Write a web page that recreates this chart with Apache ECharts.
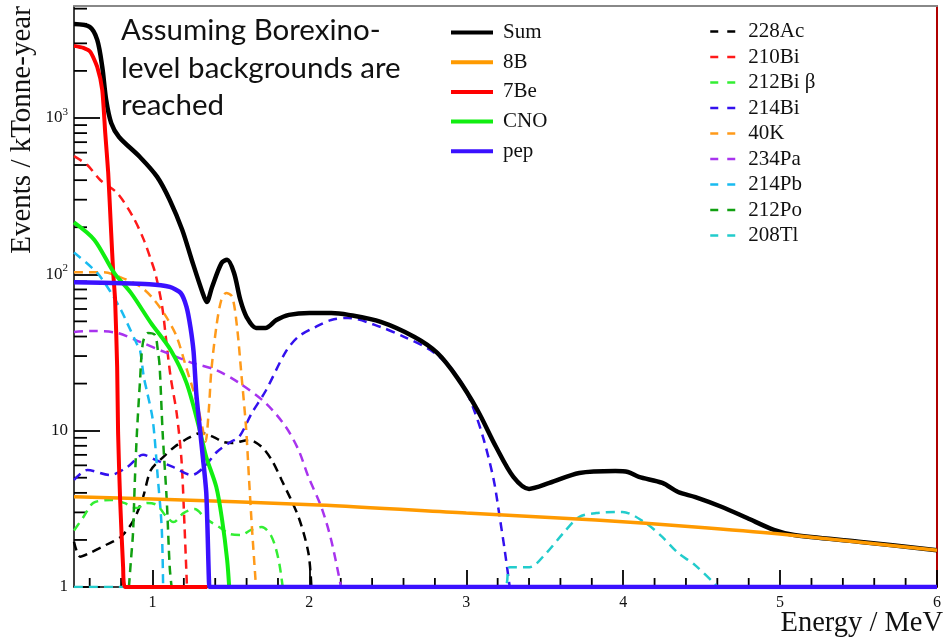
<!DOCTYPE html>
<html><head><meta charset="utf-8">
<script src="https://cdn.jsdelivr.net/npm/echarts@6/dist/echarts.min.js"></script>
<style>html,body{margin:0;padding:0;background:#fff}#c{width:944px;height:641px}</style>
</head><body><div id="c"></div>
<script>
// ---- tick values / labels ----
const xMajorTicks = [1, 2, 3, 4, 5, 6];
const xMinorTicks = [0.6, 0.8, 1.2, 1.4, 1.6, 1.8, 2.2, 2.4, 2.6, 2.8, 3.2, 3.4, 3.6, 3.8, 4.2, 4.4, 4.6, 4.8, 5.2, 5.4, 5.6, 5.8];
const yMajorTicks = [1, 10, 100, 1000];
const yMinorTicks = [2, 3, 4, 5, 6, 7, 8, 9, 20, 30, 40, 50, 60, 70, 80, 90, 200, 300, 400, 500, 600, 700, 800, 900, 2000, 3000, 4000, 5000];
const yTickLabels = ['1', '10', '10{s|2}', '10{s|3}'];

// ---- series values: [Energy (MeV), Events / kTonne-year] ----
const sumData = [[0.5,3990],[0.6,3820],[0.648,3155],[0.68,2120],[0.705,1304],[0.737,929],[0.787,756],[0.92,563],[1.03,420],[1.11,299],[1.19,192],[1.25,124],[1.32,76],[1.346,66.5],[1.38,83],[1.44,118],[1.476,124],[1.52,102],[1.56,68.5],[1.6,53.3],[1.66,45.4],[1.72,45.4],[1.79,51],[1.87,55],[2.0,56.6],[2.14,56.6],[2.25,55],[2.455,49.6],[2.67,39.7],[2.815,31.4],[2.94,22],[3.07,13.6],[3.19,7.86],[3.3,5.06],[3.4,4.24],[3.53,4.63],[3.72,5.36],[3.95,5.52],[4.03,5.44],[4.1,5.06],[4.25,4.63],[4.35,4.05],[4.46,3.76],[4.63,3.25],[4.79,2.76],[4.96,2.32],[5.09,2.15],[5.5,1.95],[6.0,1.72]];
const b8Data = [[0.5,3.78],[1,3.65],[2.057,3.35],[3,2.97],[3.826,2.68],[4.458,2.42],[5,2.18],[6,1.72]];
const be7Data = [[0.5,2890],[0.56,2805],[0.604,2645],[0.648,2120],[0.68,1511],[0.699,802],[0.718,445],[0.737,184],[0.75,102],[0.762,68.5],[0.775,25.5],[0.781,9.67],[0.794,3.6],[0.813,1.34],[0.825,1],[1.35,1]];
const cnoData = [[0.5,215],[0.63,166],[0.756,102],[0.863,76],[0.99,48.9],[1.116,32.8],[1.217,20.2],[1.299,10.3],[1.343,6.79],[1.407,4.36],[1.444,2.68],[1.476,1.49],[1.489,1]];
const pepData = [[0.5,89],[0.98,86.5],[1.11,83],[1.18,76],[1.217,62],[1.242,46],[1.262,32],[1.28,17],[1.312,8.3],[1.343,4],[1.36,1.1],[1.365,1],[6,1]];
const ac228Data = [[0.5,1.95],[0.54,1.56],[0.6,1.65],[0.7,1.85],[0.8,2.1],[0.88,2.68],[0.94,3.76],[0.99,5.6],[1.07,6.8],[1.14,7.86],[1.23,8.98],[1.31,9.67],[1.39,9.1],[1.45,8.47],[1.508,8.34],[1.615,8.72],[1.697,7.86],[1.76,6.49],[1.823,4.84],[1.931,2.8],[1.994,1.65],[2.013,1]];
const bi210Data = [[0.5,570],[0.585,500],[0.667,401],[0.775,331],[0.876,233],[0.945,166],[0.99,124],[1.02,100],[1.062,62],[1.09,36],[1.116,22],[1.154,13],[1.185,6.5],[1.204,2.5],[1.22,1]];
const bi212Data = [[0.5,2.3],[0.56,2.8],[0.623,3.45],[0.737,3.6],[0.819,3.45],[0.901,3.2],[0.964,3.45],[1.027,3.35],[1.091,2.8],[1.135,2.6],[1.198,2.97],[1.268,3.15],[1.343,2.72],[1.425,2.42],[1.495,2.18],[1.564,2.15],[1.628,2.32],[1.697,2.42],[1.76,2.09],[1.804,1.49],[1.83,1]];
const bi214Data = [[0.5,4.84],[0.585,5.6],[0.73,5.2],[0.84,5.86],[0.94,7],[1.02,6.5],[1.13,5.86],[1.25,5.2],[1.33,5.86],[1.41,7.3],[1.5,8.5],[1.552,9.1],[1.634,13],[1.722,18],[1.85,32],[1.931,40],[2.038,46],[2.139,51],[2.247,52.6],[2.455,46],[2.607,39.7],[2.771,32.8],[2.897,25.5],[2.986,19],[3.049,13.6],[3.112,8.72],[3.175,4.84],[3.213,2.8],[3.245,1.72],[3.277,1]];
const k40Data = [[0.5,103],[0.69,103],[0.794,96],[0.926,83],[1.009,69],[1.09,53],[1.154,40],[1.217,25],[1.28,15.5],[1.318,10.5],[1.338,8.5],[1.36,14],[1.375,24],[1.407,46],[1.438,68],[1.47,76],[1.508,72],[1.539,46],[1.565,24],[1.596,10.6],[1.615,5],[1.634,2.4],[1.66,1]];
const pa234Data = [[0.5,42.8],[0.604,43.4],[0.775,42.2],[0.92,37],[1.091,31.4],[1.255,27.1],[1.407,24.4],[1.552,20.2],[1.722,15],[1.849,10.6],[1.931,7.52],[1.994,5.06],[2.076,3.25],[2.139,2],[2.202,1]];
const pb214Data = [[0.5,138],[0.648,102],[0.737,76],[0.8,59],[0.838,49],[0.9,36],[0.92,33],[0.945,22],[0.964,18],[1.002,11.7],[1.034,5],[1.059,2.4],[1.068,1]];
const po212Data = [[0.85,1],[0.863,1.49],[0.876,2.21],[0.888,4.84],[0.901,9.67],[0.92,20.2],[0.939,36.4],[0.971,42.2],[1.015,41],[1.034,32.8],[1.046,25.5],[1.065,9.67],[1.091,3.6],[1.11,1.34],[1.122,1]];
const tl208Data = [[0.5,1],[3.239,1],[3.277,1.34],[3.403,1.34],[3.51,1.65],[3.618,2.21],[3.719,2.8],[3.826,2.97],[3.996,3.02],[4.142,2.57],[4.249,2.09],[4.35,1.65],[4.458,1.38],[4.603,1]];

const serif = 'Liberation Serif';
const chart = echarts.init(document.getElementById('c'), null, {renderer: 'canvas'});

function dashed(name, data, color) {
  return {name, type: 'line', data, symbol: 'none', smooth: 0.3,
    xAxisIndex: 0, yAxisIndex: 0,
    lineStyle: {color, width: 2.5, type: [9, 6]}, itemStyle: {color}, z: 2};
}
function solid(name, data, color, width, smooth) {
  return {name, type: 'line', data, symbol: 'none', smooth: smooth,
    xAxisIndex: 0, yAxisIndex: 0,
    lineStyle: {color, width}, itemStyle: {color}, z: 3};
}
// minor tick marks: thin rect symbols placed through the axes' own scales
function tickSeries(name, data, size, offset) {
  return {name, type: 'scatter', xAxisIndex: 0, yAxisIndex: 0, data, clip: false, silent: true, z: 1,
    symbol: 'rect', symbolSize: size, symbolOffset: offset,
    itemStyle: {color: '#000', opacity: 1, borderWidth: 0}, emphasis: {disabled: true}};
}

const xBase = {type: 'value', min: 0.5, max: 6, splitLine: {show: false}, gridIndex: 0};
const yBase = {type: 'log', logBase: 10, min: 1, max: 5200, splitLine: {show: false}, gridIndex: 0};

const option = {
  animation: false,
  backgroundColor: '#ffffff',
  grid: {show: false, left: 74, right: 2, top: 6, bottom: 54, containLabel: false},
  xAxis: [
    Object.assign({}, xBase, {position: 'bottom',
      axisLine: {show: true, lineStyle: {color: '#000', width: 1.5}},
      axisTick: {show: true, inside: true, length: 17, customValues: xMajorTicks, lineStyle: {color: '#000', width: 1.8}},
      axisLabel: {show: true, customValues: xMajorTicks, margin: 8, fontFamily: serif, fontSize: 16, color: '#111', formatter: v => String(Math.round(v))}}),
    Object.assign({}, xBase, {position: 'top',
      axisLine: {show: true, lineStyle: {color: '#888', width: 2}},
      axisTick: {show: false}, axisLabel: {show: false}})
  ],
  yAxis: [
    Object.assign({}, yBase, {position: 'left',
      axisLine: {show: true, lineStyle: {color: '#000', width: 1.5}},
      axisTick: {show: true, inside: true, length: 26, customValues: yMajorTicks, lineStyle: {color: '#000', width: 1.8}},
      axisLabel: {show: true, customValues: yMajorTicks, margin: 6, fontFamily: serif, fontSize: 17, color: '#111',
        formatter: function (v) { const i = yMajorTicks.indexOf(Math.round(v)); return i >= 0 ? yTickLabels[i] : ''; },
        rich: {s: {fontFamily: serif, fontSize: 11, padding: [0, 0, 12, 0], color: '#111'}}}}),
    Object.assign({}, yBase, {position: 'right',
      axisLine: {show: true, lineStyle: {color: '#b00000', width: 2}},
      axisTick: {show: false}, axisLabel: {show: false}})
  ],
  legend: [
    {orient: 'vertical', left: 449, top: 22, padding: 0, itemWidth: 42, itemHeight: 14, itemGap: 8.7,
      selectedMode: false, data: ['Sum', '8B', '7Be', 'CNO', 'pep'],
      textStyle: {fontFamily: serif, fontSize: 21, color: '#111', padding: [0, 0, 0, 5]},
      itemStyle: {opacity: 0, borderWidth: 0}, lineStyle: {width: 4}},
    {orient: 'vertical', left: 709, top: 21, padding: 0, itemWidth: 25, itemHeight: 14, itemGap: 4.5,
      selectedMode: false, data: ['228Ac', '210Bi', '212Bi β', '214Bi', '40K', '234Pa', '214Pb', '212Po', '208Tl'],
      textStyle: {fontFamily: serif, fontSize: 21, color: '#111', padding: [0, 0, 0, 8]},
      itemStyle: {opacity: 0, borderWidth: 0}, lineStyle: {width: 2.5, type: [8, 9]}}
  ],
  graphic: [
    {type: 'text', x: 22, y: 130, rotation: Math.PI / 2,
      style: {text: 'Events / kTonne-year', font: '29px "Liberation Serif"', fill: '#111', textAlign: 'center', textVerticalAlign: 'middle'}},
    {type: 'text', x: 943, y: 624,
      style: {text: 'Energy / MeV', font: '28.5px "Liberation Serif"', fill: '#111', textAlign: 'right', textVerticalAlign: 'middle'}},
    {type: 'text', x: 121, y: 12,
      style: {text: 'Assuming Borexino-\nlevel backgrounds are\nreached', font: '29.5px Lato', lineHeight: 37.5, fill: '#111', textAlign: 'left', textVerticalAlign: 'top'}}
  ],
  series: [
    tickSeries('xMinor', xMinorTicks.map(v => [v, 1]), [1.8, 9], [0, -4.5]),
    tickSeries('yMinor', yMinorTicks.map(v => [0.5, v]), [13, 1.8], [6.5, 0]),
    dashed('228Ac', ac228Data, '#000000'),
    dashed('210Bi', bi210Data, '#ff1a1a'),
    dashed('212Bi β', bi212Data, '#33ee33'),
    dashed('214Bi', bi214Data, '#3311ee'),
    dashed('40K', k40Data, '#ff9a1a'),
    dashed('234Pa', pa234Data, '#a833ee'),
    dashed('214Pb', pb214Data, '#19bbf0'),
    dashed('212Po', po212Data, '#11a011'),
    dashed('208Tl', tl208Data, '#22cccc'),
    solid('Sum', sumData, '#000000', 4.5, 0.3),
    solid('8B', b8Data, '#ff9a00', 3.5, 0.3),
    solid('7Be', be7Data, '#ff0000', 4, 0.2),
    solid('CNO', cnoData, '#11ee11', 4, 0.3),
    solid('pep', pepData, '#3a11ff', 4.5, 0.2)
  ]
};
chart.setOption(option);
</script></body></html>
